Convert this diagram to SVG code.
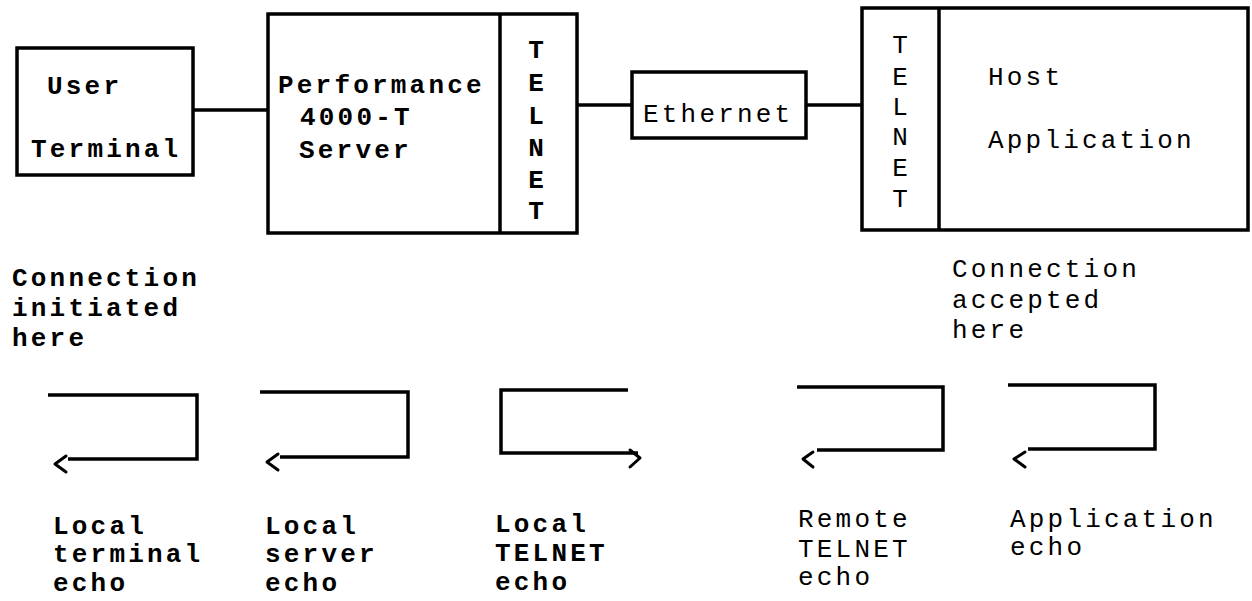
<svg xmlns="http://www.w3.org/2000/svg" width="1252" height="601" viewBox="0 0 1252 601">
  <style>
    .box { fill: none; stroke: #000; stroke-width: 3.5; }
    .wire { fill: none; stroke: #000; stroke-width: 3.5; }
    .loop { fill: none; stroke: #000; stroke-width: 3.5; stroke-linejoin: miter; }
    .tip { fill: none; stroke: #000; stroke-width: 3; stroke-linecap: round; stroke-linejoin: round; }
    text { font-family: "Liberation Mono", "DejaVu Sans Mono", monospace; font-size: 26px; letter-spacing: 3.2px; fill: #000; }
    .heavy { font-weight: bold; }
    .mid { text-anchor: middle; letter-spacing: 0; }
  </style>
  <rect width="1252" height="601" fill="#fff"/>

  <!-- User terminal -->
  <g id="user-terminal">
    <rect class="box" x="17" y="48" width="176" height="127"/>
    <text class="heavy" x="47" y="94">User</text>
    <text class="heavy" x="31" y="157">Terminal</text>
  </g>

  <!-- Performance 4000-T server with its TELNET layer -->
  <g id="server">
    <rect class="box" x="268" y="14" width="309" height="219"/>
    <line class="box" x1="500" y1="14" x2="500" y2="233"/>
    <text class="heavy" x="278" y="93">Performance</text>
    <text class="heavy" x="300" y="125">4000-T</text>
    <text class="heavy" x="299" y="158">Server</text>
    <text class="heavy mid" x="536" y="58">T</text>
    <text class="heavy mid" x="536" y="91">E</text>
    <text class="heavy mid" x="536" y="124">L</text>
    <text class="heavy mid" x="536" y="156">N</text>
    <text class="heavy mid" x="536" y="188">E</text>
    <text class="heavy mid" x="536" y="219">T</text>
  </g>

  <!-- Ethernet -->
  <g id="ethernet">
    <rect class="box" x="632" y="72" width="174" height="66"/>
    <text x="643" y="122">Ethernet</text>
  </g>

  <!-- Host with its TELNET layer -->
  <g id="host">
    <rect class="box" x="862" y="8" width="386" height="222"/>
    <line class="box" x1="939" y1="8" x2="939" y2="230"/>
    <text class="mid" x="900" y="53">T</text>
    <text class="mid" x="900" y="85">E</text>
    <text class="mid" x="900" y="115">L</text>
    <text class="mid" x="900" y="145">N</text>
    <text class="mid" x="900" y="176">E</text>
    <text class="mid" x="900" y="207">T</text>
    <text x="988" y="85">Host</text>
    <text x="988" y="148">Application</text>
  </g>

  <!-- links between the boxes -->
  <g id="connectors">
    <line class="wire" x1="193" y1="110" x2="268" y2="110"/>
    <line class="wire" x1="577" y1="105" x2="632" y2="105"/>
    <line class="wire" x1="806" y1="105" x2="862" y2="105"/>
  </g>

  <!-- end-point notes -->
  <g id="note-initiated">
    <text class="heavy" x="12" y="286">Connection</text>
    <text class="heavy" x="12" y="316">initiated</text>
    <text class="heavy" x="12" y="346">here</text>
  </g>
  <g id="note-accepted">
    <text x="952" y="277">Connection</text>
    <text x="952" y="308">accepted</text>
    <text x="952" y="338">here</text>
  </g>

  <!-- echo paths -->
  <g id="echo-terminal">
    <path class="loop" d="M48,395 H197 V459 H68"/>
    <polyline class="tip" points="66,456 55,464 66,472"/>
    <text class="heavy" x="53" y="534">Local</text>
    <text class="heavy" x="53" y="562">terminal</text>
    <text class="heavy" x="53" y="591">echo</text>
  </g>
  <g id="echo-server">
    <path class="loop" d="M260,392 H408 V457 H280"/>
    <polyline class="tip" points="278,454 267,462 278,470"/>
    <text class="heavy" x="265" y="534">Local</text>
    <text class="heavy" x="265" y="562">server</text>
    <text class="heavy" x="265" y="591">echo</text>
  </g>
  <g id="echo-local-telnet">
    <path class="loop" d="M628,390 H501 V453 H638"/>
    <polyline class="tip" points="630,450 640,458 630,467"/>
    <text class="heavy" x="495" y="532">Local</text>
    <text class="heavy" x="495" y="561">TELNET</text>
    <text class="heavy" x="495" y="590">echo</text>
  </g>
  <g id="echo-remote-telnet">
    <path class="loop" d="M797,387 H943 V450 H817"/>
    <polyline class="tip" points="813,452 803,459 813,467"/>
    <text x="798" y="527">Remote</text>
    <text x="798" y="557">TELNET</text>
    <text x="798" y="585">echo</text>
  </g>
  <g id="echo-application">
    <path class="loop" d="M1008,385 H1155 V449 H1028"/>
    <polyline class="tip" points="1025,452 1014,459 1025,467"/>
    <text x="1010" y="527">Application</text>
    <text x="1010" y="555">echo</text>
  </g>
</svg>
